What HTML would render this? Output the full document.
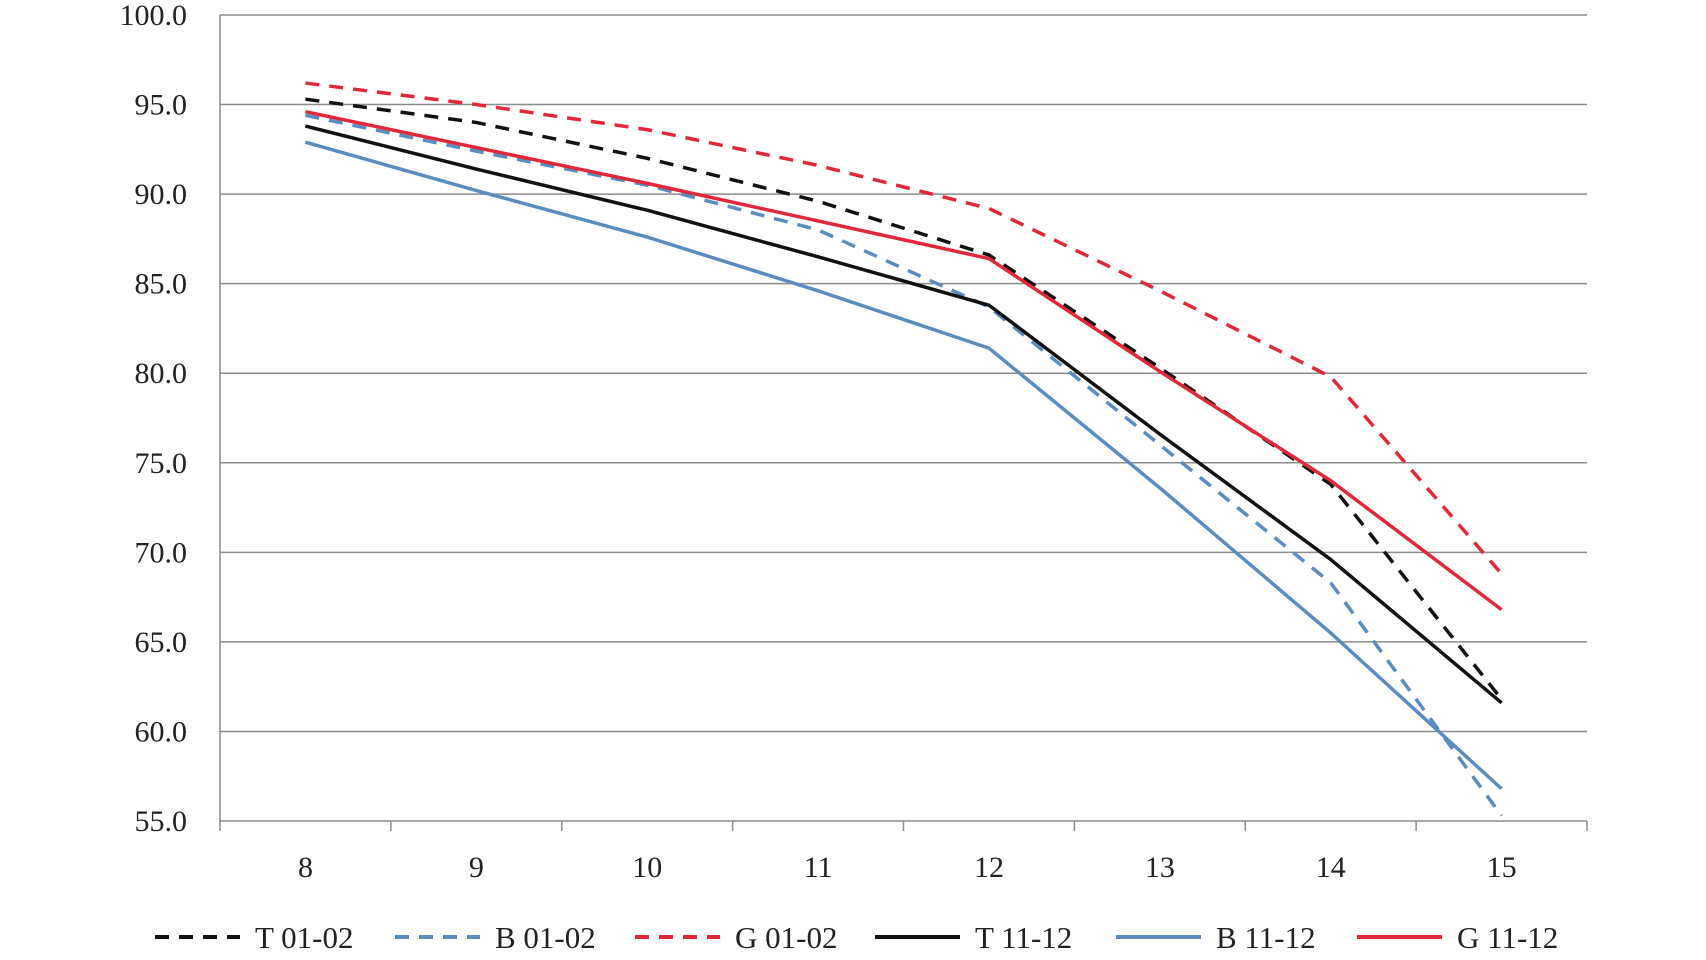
<!DOCTYPE html>
<html><head><meta charset="utf-8"><style>
html,body{margin:0;padding:0;background:#fff;}
svg{display:block;font-family:"Liberation Serif",serif;}
</style></head><body>
<svg id="chart" width="1706" height="960" viewBox="0 0 1706 960" xmlns="http://www.w3.org/2000/svg"></svg>
<script>
const categories = ["8","9","10","11","12","13","14","15"];
const yTicks = [55,60,65,70,75,80,85,90,95,100];
const seriesNames = ["T 01-02","B 01-02","G 01-02","T 11-12","B 11-12","G 11-12"];
const t0102 = [95.3,94.0,92.0,89.6,86.6,80.3,73.8,61.8];
const b0102 = [94.4,92.4,90.5,88.0,83.7,76.0,68.3,55.3];
const g0102 = [96.2,95.0,93.6,91.6,89.2,84.6,79.8,68.8];
const t1112 = [93.8,91.4,89.1,86.5,83.8,76.6,69.6,61.6];
const b1112 = [92.9,90.2,87.6,84.6,81.4,73.6,65.5,56.8];
const g1112 = [94.6,92.6,90.6,88.5,86.4,80.1,74.0,66.8];

const svg = document.getElementById('chart');
const NS = 'http://www.w3.org/2000/svg';
const L = 220, R = 1587, T = 15, B = 821;
const yMin = 55, yMax = 100;
const band = (R - L) / categories.length;
const xPos = i => L + band * (i + 0.5);
const yPos = v => B - (v - yMin) / (yMax - yMin) * (B - T);
function mk(tag, attrs, parent) {
  const e = document.createElementNS(NS, tag);
  for (const k in attrs) e.setAttribute(k, attrs[k]);
  (parent || svg).appendChild(e);
  return e;
}
yTicks.forEach(v => {
  const g = mk('line', {x1: L, x2: R, y1: yPos(v), y2: yPos(v), stroke: '#8c8c8c', 'stroke-width': 1.5});
  
  
  const t = mk('text', {x: 187, y: yPos(v) + 10, 'text-anchor': 'end', 'font-size': 30, fill: '#222'});
  t.textContent = v.toFixed(1);
  
  
});
const ya = mk('line', {x1: L, x2: L, y1: T, y2: B, stroke: '#8c8c8c', 'stroke-width': 1.5});


for (let i = 0; i <= categories.length; i++) {
  const x = L + band * i;
  const tk = mk('line', {x1: x, x2: x, y1: B, y2: B + 10, stroke: '#8c8c8c', 'stroke-width': 1.5});
  
  
}
categories.forEach((c, i) => {
  const t = mk('text', {x: xPos(i), y: 877, 'text-anchor': 'middle', 'font-size': 30, fill: '#222'});
  t.textContent = c;
  
  
});
const series = [t0102, b0102, g0102, t1112, b1112, g1112];
const colors = ['#111', '#5b8cc0', '#e0283a', '#111', '#5b8cc0', '#e0283a'];
const dashed = [true, true, true, false, false, false];
const slugs = ['t-01-02','b-01-02','g-01-02','t-11-12','b-11-12','g-11-12'];
series.forEach((s, k) => {
  const pts = s.map((v, i) => xPos(i) + ',' + yPos(v)).join(' ');
  const p = mk('polyline', {points: pts, fill: 'none', stroke: colors[k], 'stroke-width': 3.5, 'stroke-dasharray': dashed[k] ? '14,10' : 'none'});
  
  
});
const legX = [155, 395, 635, 875, 1116, 1357];
seriesNames.forEach((n, k) => {
  const g = mk('g', {});
  
  
  mk('line', {x1: legX[k], x2: legX[k] + 85, y1: 937, y2: 937, stroke: colors[k], 'stroke-width': 4, 'stroke-dasharray': dashed[k] ? '14,10' : 'none'}, g);
  const t = mk('text', {x: legX[k] + 100, y: 948, 'font-size': 31, fill: '#222'}, g);
  t.textContent = n;
});
</script>
</body></html>
